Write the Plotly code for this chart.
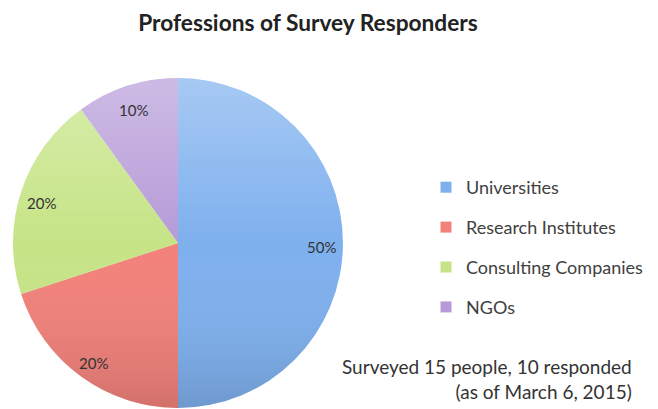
import math
import base64
import plotly.graph_objects as go

categories = ["Universities", "Research Institutes", "Consulting Companies", "NGOs"]
values = [50, 20, 20, 10]
colors = ["#7eb0ee", "#f2817a", "#c6e486", "#b69bd8"]

W, H = 658, 409
OFF = 8  # page body margin
cx, cy, r = 178 - OFF, 243 - OFF, 165

fig = go.Figure()
fig.add_trace(go.Pie(
    labels=categories,
    values=values,
    sort=False,
    direction="clockwise",
    rotation=0,
    marker=dict(colors=colors, line=dict(width=0)),
    textinfo="none",
    showlegend=False,
    hoverinfo="label+percent",
    domain=dict(x=[(cx - r) / W, (cx + r) / W], y=[1 - (cy + r) / H, 1 - (cy - r) / H]),
))

# percent labels placed near the rim, computed from the values
total = sum(values)
annotations = []
cum = 0
rl = 0.87 * r
for v in values:
    theta = 2 * math.pi * (cum + v / 2) / total
    cum += v
    lx = cx + rl * math.sin(theta)
    ly = cy - rl * math.cos(theta) + 4
    annotations.append(dict(text=f"{round(100 * v / total)}%", x=lx / W, y=1 - ly / H,
                            xref="paper", yref="paper", showarrow=False,
                            xanchor="center", yanchor="middle",
                            font=dict(family="Lato", size=15, color="#333333")))

# legend entries
for i, (cat, col) in enumerate(zip(categories, colors)):
    fig.add_trace(go.Scatter(x=[None], y=[None], mode="markers", name=cat,
                             legendgroup=f"g{i}", hoverinfo="skip",
                             marker=dict(symbol="square", size=11, color=col)))

# soft vertical shading over the pie
svg = (f"<svg xmlns='http://www.w3.org/2000/svg' width='{2*r}' height='{2*r}'>"
       "<defs><linearGradient id='g' x1='0' y1='0' x2='0' y2='1'>"
       "<stop offset='0' stop-color='white' stop-opacity='0.32'/>"
       "<stop offset='0.5' stop-color='white' stop-opacity='0'/>"
       "<stop offset='1' stop-color='black' stop-opacity='0.13'/>"
       "</linearGradient></defs>"
       f"<circle cx='{r}' cy='{r}' r='{r}' fill='url(#g)'/></svg>")
src = "data:image/svg+xml;base64," + base64.b64encode(svg.encode()).decode()

annotations.append(dict(text="Surveyed 15 people, 10 responded<br>(as of March 6, 2015)",
                        x=(634 - OFF) / W, y=1 - (379 - OFF) / H, xref="paper", yref="paper",
                        xanchor="right", yanchor="middle", align="right", showarrow=False,
                        font=dict(family="Lato", size=19, color="#333333")))

fig.update_layout(
    width=W, height=H,
    margin=dict(l=0, r=0, t=0, b=0, autoexpand=False),
    paper_bgcolor="white",
    plot_bgcolor="white",
    xaxis=dict(visible=False),
    yaxis=dict(visible=False),
    title=dict(text="<b>Professions of Survey Responders</b>", x=(308 - OFF) / W, xanchor="center",
               y=1 - (23 - OFF) / H, yanchor="middle",
               font=dict(family="Lato", size=22.7, color="#222222")),
    legend=dict(x=(426 - OFF) / W, y=1 - (169 - OFF) / H, xanchor="left", yanchor="top",
                traceorder="grouped", tracegroupgap=13.5,
                font=dict(family="Lato", size=18, color="#404040"),
                bgcolor="rgba(0,0,0,0)"),
    images=[dict(source=src, xref="paper", yref="paper",
                 x=(cx - r) / W, y=1 - (cy - r) / H, sizex=2 * r / W, sizey=2 * r / H,
                 xanchor="left", yanchor="top", sizing="stretch", layer="above")],
    annotations=annotations,
)

fig.write_html("out.html")
